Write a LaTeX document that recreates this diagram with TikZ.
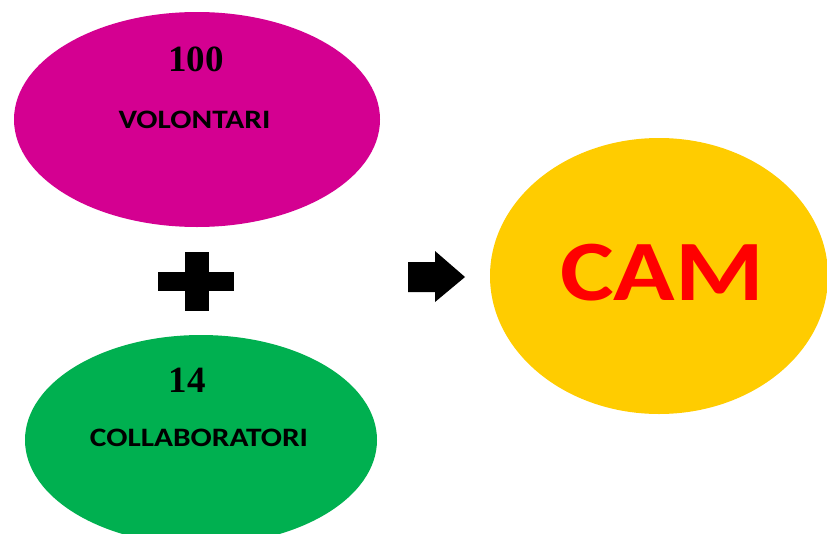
\documentclass[tikz,border=0pt]{standalone}
\usepackage{fontspec}
\setmainfont{Liberation Serif}
\newfontfamily\calfont[FakeStretch=1.18]{Carlito}
\usetikzlibrary{shapes.geometric}
\definecolor{volmag}{RGB}{212,0,145}
\definecolor{colgreen}{RGB}{0,176,80}
\definecolor{camyellow}{RGB}{255,204,0}
\definecolor{camred}{RGB}{255,0,0}

\begin{document}
\begin{tikzpicture}[x=1pt,y=-1pt,
  blob/.style={ellipse,inner sep=0pt},
  number/.style={anchor=base,font=\fontsize{37}{37}\selectfont\bfseries},
  caption/.style={anchor=base,font=\calfont\fontsize{26.6}{26.6}\selectfont\bfseries}]
\useasboundingbox[fill=white] (0,0) rectangle (827,533);
\clip (0,0) rectangle (827,533);
\node[blob,fill=volmag,minimum width=366pt,minimum height=215pt] (vol) at (197,119.5) {};
\node[number] (volnum) at (196,71) {100};
\node[caption] (voltxt) at (194.5,128) {VOLONTARI};
\node[blob,fill=colgreen,minimum width=352pt,minimum height=210pt] (col) at (201,440) {};
\node[number] (colnum) at (187,392) {14};
\node[caption] (coltxt) at (199,446) {COLLABORATORI};
\node[blob,fill=camyellow,minimum width=338pt,minimum height=276pt] (cam) at (659,276) {};
\node[anchor=base,text=camred,font=\calfont\fontsize{86}{86}\selectfont\bfseries] (camtxt) at (662,300) {CAM};
\fill (158,272) rectangle (234,291);
\fill (185,252) rectangle (209,311);
\fill (408,262) -- (435,262) -- (435,251) -- (465,277) -- (435,302) -- (435,292) -- (408,292) -- cycle;
\end{tikzpicture}
\end{document}
